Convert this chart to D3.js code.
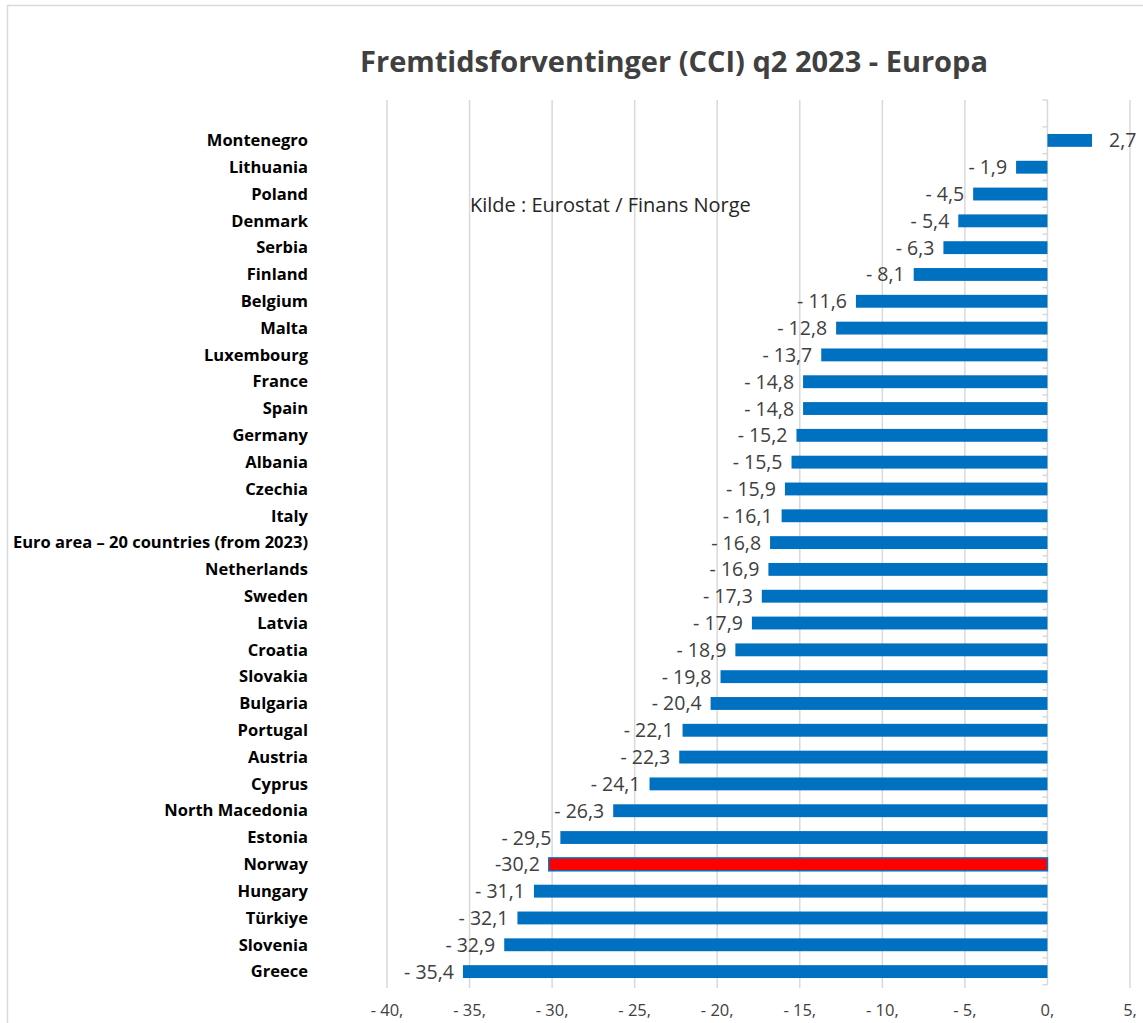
<!DOCTYPE html>
<html>
<head>
<meta charset="utf-8">
<script src="https://cdn.jsdelivr.net/npm/d3@7"></script>
<style>
  body { margin: 0; background: #fff; }
  svg { display: block; }
</style>
</head>
<body>
<svg id="chart" width="1143" height="1023"></svg>
<script>
// Consumer confidence (CCI), q2 2023, by country
const countries = [
  "Montenegro", "Lithuania", "Poland", "Denmark", "Serbia", "Finland", "Belgium",
  "Malta", "Luxembourg", "France", "Spain", "Germany", "Albania", "Czechia", "Italy",
  "Euro area \u2013 20 countries (from 2023)", "Netherlands", "Sweden", "Latvia",
  "Croatia", "Slovakia", "Bulgaria", "Portugal", "Austria", "Cyprus",
  "North Macedonia", "Estonia", "Norway", "Hungary", "T\u00fcrkiye", "Slovenia", "Greece"
];
const values = [
  2.7, -1.9, -4.5, -5.4, -6.3, -8.1, -11.6,
  -12.8, -13.7, -14.8, -14.8, -15.2, -15.5, -15.9, -16.1,
  -16.8, -16.9, -17.3, -17.9,
  -18.9, -19.8, -20.4, -22.1, -22.3, -24.1,
  -26.3, -29.5, -30.2, -31.1, -32.1, -32.9, -35.4
];
const xTicks = [-40, -35, -30, -25, -20, -15, -10, -5, 0, 5];
const highlight = "Norway";

const title = "Fremtidsforventinger (CCI) q2 2023 - Europa";
const source = "Kilde : Eurostat / Finans Norge";

const svg = d3.select("#chart");
const font = "'Open Sans', Lato, sans-serif";

const data = countries.map((c, i) => ({ country: c, value: values[i] }));

const plot = { left: 387, right: 1130, top: 100, bandTop: 127, bottom: 985 };

const x = d3.scaleLinear().domain([-40, 5]).range([plot.left, plot.right]);
const y = d3.scaleBand().domain(countries).range([plot.bandTop, plot.bottom]).paddingInner(0.52).paddingOuter(0.26);

// outer frame
svg.append("rect")
  .attr("x", 7.5).attr("y", 5.5).attr("width", 1160).attr("height", 1040)
  .attr("fill", "none").attr("stroke", "#d9d9d9").attr("stroke-width", 1.5);

// title
svg.append("text")
  .attr("x", 674).attr("y", 72)
  .attr("text-anchor", "middle")
  .attr("font-family", font).attr("font-weight", 700).attr("font-size", 29)
  .attr("fill", "#404040")
  .text(title);

// vertical gridlines
svg.append("g")
  .selectAll("line")
  .data(xTicks.filter(t => t !== 0))
  .join("line")
  .attr("x1", d => x(d)).attr("x2", d => x(d))
  .attr("y1", plot.top).attr("y2", plot.bottom + 3)
  .attr("stroke", "#d9d9d9").attr("stroke-width", 1.5);

// x tick labels
svg.append("g")
  .selectAll("text")
  .data(xTicks)
  .join("text")
  .attr("x", d => x(d))
  .attr("y", 1016)
  .attr("text-anchor", "middle")
  .attr("font-family", font).attr("font-size", 16.5)
  .attr("fill", "#404040")
  .text(d => d < 0 ? "- " + Math.abs(d) + "," : d + ",");

// category axis at zero with boundary ticks
const zeroAxis = svg.append("g");
zeroAxis.append("line")
  .attr("x1", x(0)).attr("x2", x(0))
  .attr("y1", plot.top).attr("y2", plot.bottom)
  .attr("stroke", "#d9d9d9").attr("stroke-width", 1.5);
const step = y.step();
const bounds = d3.range(countries.length + 2).map(i => plot.top + i * step).filter(v => v <= plot.bottom + 1);
zeroAxis.selectAll("line.tick")
  .data(bounds)
  .join("line")
  .attr("class", "tick")
  .attr("x1", x(0) - 5).attr("x2", x(0))
  .attr("y1", d => d).attr("y2", d => d)
  .attr("stroke", "#d9d9d9").attr("stroke-width", 1.5);

// bars
svg.append("g")
  .selectAll("rect")
  .data(data)
  .join("rect")
  .attr("x", d => x(Math.min(0, d.value)))
  .attr("y", d => y(d.country))
  .attr("width", d => Math.abs(x(d.value) - x(0)))
  .attr("height", y.bandwidth())
  .attr("fill", d => d.country === highlight ? "#ff0000" : "#0070c0")
  .attr("stroke", d => d.country === highlight ? "#0070c0" : "none")
  .attr("stroke-width", 1.5);

// category labels
svg.append("g")
  .selectAll("text")
  .data(data)
  .join("text")
  .attr("x", 308)
  .attr("y", d => y(d.country) + y.bandwidth() / 2)
  .attr("dy", "0.35em")
  .attr("text-anchor", "end")
  .attr("font-family", font).attr("font-weight", 700).attr("font-size", 16.5)
  .attr("fill", "#000")
  .text(d => d.country);

// value labels
const fmt = v => {
  const s = Math.abs(v).toFixed(1).replace(".", ",");
  return v < 0 ? "- " + s : s;
};
svg.append("g")
  .selectAll("text")
  .data(data)
  .join("text")
  .attr("x", d => d.value < 0 ? x(d.value) - 9 : x(d.value) + 17)
  .attr("y", d => y(d.country) + y.bandwidth() / 2)
  .attr("dy", "0.36em")
  .attr("text-anchor", d => d.value < 0 ? "end" : "start")
  .attr("font-family", font).attr("font-size", 19.5)
  .attr("fill", "#404040")
  .text(d => d.country === highlight ? "-" + Math.abs(d.value).toFixed(1).replace(".", ",") : fmt(d.value));

// source note
svg.append("text")
  .attr("x", 470).attr("y", 212)
  .attr("font-family", font).attr("font-size", 20)
  .attr("fill", "#262626")
  .text(source);
</script>
</body>
</html>
